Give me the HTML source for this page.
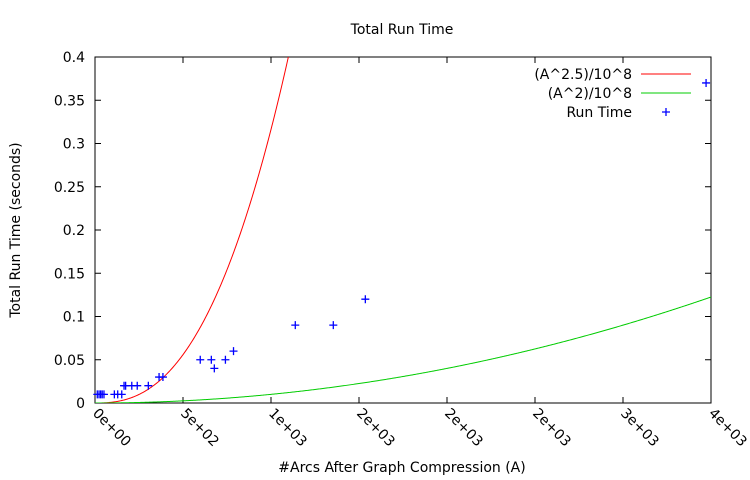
<!DOCTYPE html>
<html><head><meta charset="utf-8"><style>
html,body{margin:0;padding:0;background:#fff;}
svg{display:block;font-family:"DejaVu Sans","Liberation Sans",sans-serif;font-size:14px;}
</style></head><body>
<svg id="chart" width="750" height="480">
<text x="402" y="34" text-anchor="middle">Total Run Time</text>
<text transform="translate(20,230) rotate(-90)" text-anchor="middle">Total Run Time (seconds)</text>
<text x="402" y="472" text-anchor="middle">#Arcs After Graph Compression (A)</text>
<g id="axes"></g>
<g id="series"></g>
<g id="legend">
<text x="632" y="79" text-anchor="end">(A^2.5)/10^8</text>
<line x1="641" y1="74" x2="691" y2="74" stroke="#f00" stroke-width="1"/>
<text x="632" y="98" text-anchor="end">(A^2)/10^8</text>
<line x1="641" y1="93" x2="691" y2="93" stroke="#0c0" stroke-width="1"/>
<text x="632" y="117" text-anchor="end">Run Time</text>
<path d="M662 112h8M666 108v8" stroke="#00f" stroke-width="1.3"/>
</g>
</svg>
<script>
const xTicks=[0,500,1000,1500,2000,2500,3000,3500];
const xTickLabels=["0e+00","5e+02","1e+03","2e+03","2e+03","2e+03","3e+03","4e+03"];
const yTicks=[0,0.05,0.1,0.15,0.2,0.25,0.3,0.35,0.4];
const yTickLabels=["0","0.05","0.1","0.15","0.2","0.25","0.3","0.35","0.4"];
const arcs=[13,23,32,41,51,110,129,152,165,174,209,240,303,364,386,598,661,678,741,787,1138,1354,1536,3472];
const runTimes=[0.01,0.01,0.01,0.01,0.01,0.01,0.01,0.01,0.02,0.02,0.02,0.02,0.02,0.03,0.03,0.05,0.05,0.04,0.05,0.06,0.09,0.09,0.12,0.37];
const L=95,R=711,T=57,B=403,XMAX=3500,YMAX=0.4;
const sx=v=>L+v/XMAX*(R-L), sy=v=>B-v/YMAX*(B-T);
const NS="http://www.w3.org/2000/svg";
const axes=document.getElementById('axes'), series=document.getElementById('series');
function mk(t,a,p){const e=document.createElementNS(NS,t);for(const k in a)e.setAttribute(k,a[k]);p.appendChild(e);return e;}
const frame=mk('rect',{x:L,y:T,width:R-L,height:B-T,fill:'none',stroke:'#000','stroke-width':1},axes);


yTicks.forEach((v,i)=>{const y=sy(v);
const t=mk('path',{d:`M${L} ${y}h6M${R} ${y}h-6`,stroke:'#000'},axes);


const tx=mk('text',{x:L-10,y:y+5,'text-anchor':'end'},axes);tx.textContent=yTickLabels[i];

});
xTicks.forEach((v,i)=>{const x=sx(v);
const t=mk('path',{d:`M${x} ${B}v-6M${x} ${T}v6`,stroke:'#000'},axes);


const tx=mk('text',{transform:`translate(${x-3},${B+11}) rotate(45)`},axes);tx.textContent=xTickLabels[i];

});
const clip=mk('clipPath',{id:'pc'},series);mk('rect',{x:L,y:T,width:R-L,height:B-T},clip);
function curve(f,col,name){let d='';for(let a=0;a<=XMAX;a+=5){d+=(a?'L':'M')+sx(a).toFixed(2)+' '+sy(f(a)).toFixed(2);}
const p=mk('path',{d,fill:'none',stroke:col,'stroke-width':1,'clip-path':'url(#pc)'},series);

}
curve(a=>Math.pow(a,2.5)/1e8,'#f00','curve-a25');
curve(a=>a*a/1e8,'#0c0','curve-a2');
arcs.forEach((a,i)=>{const x=sx(a),y=sy(runTimes[i]);
const p=mk('path',{d:`M${x-4} ${y}h8M${x} ${y-4}v8`,stroke:'#00f','stroke-width':1.3},series);

});
</script>
</body></html>
